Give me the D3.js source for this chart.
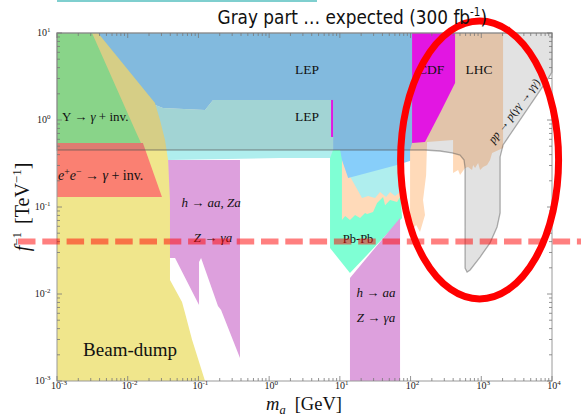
<!DOCTYPE html>
<html><head><meta charset="utf-8">
<script src="https://cdn.jsdelivr.net/npm/d3@7"></script>
<style>
html,body{margin:0;padding:0;background:#fff;}
svg{display:block;}
</style></head><body>
<svg id="chart" width="581" height="418"></svg>
<script>
// Axes: ALP mass m_a [GeV] and coupling f^-1 [TeV^-1]
const massDecades = [1e-3, 1e-2, 1e-1, 1e0, 1e1, 1e2, 1e3, 1e4];
const couplingDecades = [1e-3, 1e-2, 1e-1, 1e0, 1e1];

// Excluded regions, each point is [m_a (GeV), f^-1 (TeV^-1)]
const beamDump = [[0.001,10],[0.0038,10],[0.0243,1.57],[0.0286,1.0],[0.0337,0.589],[0.0372,0.347],[0.0396,0.12],[0.0396,0.0145],[0.0586,0.0081],[0.0645,0.0061],[0.0811,0.003],[0.124,0.001],[0.001,0.001]];
const upsilonDecay = [[0.001,10],[0.00313,10],[0.0127,0.767],[0.0154,0.544],[0.001,0.544]];
const monoPhoton = [[0.001,0.544],[0.0164,0.544],[0.0305,0.13],[0.001,0.13]];
const lepTriPhoton = [[0.0029,10],[108,10],[108,0.347],[64.4,0.304],[13.1,0.215],[10.7,0.347],[10.1,0.452],[8.02,0.452],[8.02,1.7],[0.161,1.7],[0.124,1.3],[0.0315,1.37],[0.0207,1.57]];
const lepDiPhoton = [[0.001,1.57],[0.0207,1.57],[0.0315,1.37],[0.124,1.3],[0.161,1.7],[8.02,1.7],[8.02,0.452],[7.26,0.366],[1.43,0.366],[0.0372,0.347],[0.001,0.347]];
const lepDiPhotonLow = [[12.6,0.26],[71,0.347],[71,0.149],[60.4,0.134],[51.3,0.149],[45,0.13],[37,0.149],[31.5,0.127],[25.1,0.134],[20.6,0.127]];
const leadLead = [[7.26,0.452],[11.9,0.452],[11.9,0.137],[71,0.165],[75.8,0.0748],[13.9,0.0174],[7.26,0.0338]];
const lhcLowMass = [[10.7,0.347],[71,0.347],[71,0.13],[64.4,0.114],[51.3,0.12],[43.6,0.105],[40.8,0.13],[33.6,0.111],[29.5,0.0877],[24.3,0.0832],[22.7,0.0853],[19.3,0.0748],[16.4,0.0809],[13.9,0.071],[11.9,0.0788],[10.7,0.071]];
const exoticHZ = [[0.0372,0.347],[0.387,0.347],[0.387,0.00184],[0.209,0.00655],[0.189,0.00728],[0.109,0.0259],[0.102,0.0233],[0.102,0.00748],[0.0467,0.0259],[0.0372,0.0259]];
const exoticHZHigh = [[13.9,0.001],[71,0.001],[71,0.0748],[13.9,0.0153]];
const cdfSliver = [[7.51,1.7],[8.02,1.7],[8.02,0.638],[7.51,0.638]];
const lhcPhotons = [[105,10],[2032,10],[2032,0.477],[1422,0.418],[1330,0.347],[1208,0.304],[1060,0.288],[962,0.266],[902,0.321],[817,0.281],[766,0.304],[741,0.266],[650,0.288],[590,0.281],[501,0.233],[470,0.266],[399,0.246],[399,0.589],[171,0.559],[166,0.233],[150,0.12],[160,0.0809],[136,0.0516],[120,0.0621],[98.4,0.0516],[98.4,0.452],[105,0.544]];
const cdfPhotons = [[105,10],[426,10],[426,2.66],[261,1.2],[160,0.559],[105,0.544]];
// projected reach, 300 fb^-1
const expectedReach = [[0.001,10],[1e4,10],[1e4,3.56],[8530,2.88],[2032,0.516],[1845,0.376],[1845,0.0853],[1671,0.0589],[1330,0.0386],[962,0.0266],[695,0.0189],[630,0.0179],[590,0.0199],[590,0.281],[571,0.347],[501,0.396],[386,0.418],[261,0.44],[160,0.452],[0.001,0.452]];

const referenceCoupling = 0.04;
const highlightCenter = [946, 0.347];

const svg = d3.select("#chart");
const x = d3.scaleLog().domain([1e-3, 1e4]).range([57, 552]);
const y = d3.scaleLog().domain([1e-3, 1e1]).range([381, 33]);

// top accent strip
svg.append("rect").attr("x", 57).attr("y", 0).attr("width", 260).attr("height", 2).attr("fill", "#7fcfcf");

const area = d3.line().x(d => x(d[0])).y(d => y(d[1]));
const layers = [
  [leadLead, "#7fffd4"],
  [lhcLowMass, "#ffdab9"],
  [lepDiPhotonLow, "#afeeee"],
  [lepTriPhoton, "#87cefa"],
  [lepDiPhoton, "#afeeee"],
  [exoticHZ, "#dda0dd"],
  [exoticHZHigh, "#dda0dd"],
  [beamDump, "#f0e68c"],
  [upsilonDecay, "#90ee90"],
  [monoPhoton, "#fa8072"],
  [cdfSliver, "#ff00ff"],
  [lhcPhotons, "#ffdab9"],
  [cdfPhotons, "#ff00ff"]
];
const plot = svg.append("g");
plot.selectAll("path.region").data(layers).join("path")
  .attr("class", "region")
  .attr("d", d => area(d[0]) + "Z")
  .attr("fill", d => d[1]);

plot.append("path")
  .attr("d", area(expectedReach) + "Z")
  .attr("fill", "rgba(111,111,111,0.2)")
  .attr("stroke", "rgba(80,80,80,0.45)")
  .attr("stroke-width", 1.3);

// frame and ticks on all four sides
svg.append("rect").attr("x", 57).attr("y", 33).attr("width", 495).attr("height", 348)
  .attr("fill", "none").attr("stroke", "#9a9a9a").attr("stroke-width", 1);
const tickG = svg.append("g").attr("stroke", "#777").attr("stroke-width", 0.8);
const xTicks = [], yTicks = [];
massDecades.forEach(d => { for (let k = 1; k <= 9; k++) if (k * d <= 1e4 + 1e-9) xTicks.push([k * d, k === 1]); });
couplingDecades.forEach(d => { for (let k = 1; k <= 9; k++) if (k * d <= 10 + 1e-9) yTicks.push([k * d, k === 1]); });
xTicks.forEach(([v, major]) => {
  const L = major ? 5 : 3;
  tickG.append("line").attr("x1", x(v)).attr("x2", x(v)).attr("y1", 381).attr("y2", 381 - L);
  tickG.append("line").attr("x1", x(v)).attr("x2", x(v)).attr("y1", 33).attr("y2", 33 + L);
});
yTicks.forEach(([v, major]) => {
  const L = major ? 5 : 3;
  tickG.append("line").attr("y1", y(v)).attr("y2", y(v)).attr("x1", 57).attr("x2", 57 + L);
  tickG.append("line").attr("y1", y(v)).attr("y2", y(v)).attr("x1", 552).attr("x2", 552 - L);
});

const serif = "'Liberation Serif', 'Times New Roman', serif";
function powerLabel(g, v, px, py, anchor) {
  const t = g.append("text").attr("x", px).attr("y", py).attr("text-anchor", anchor)
    .attr("font-family", serif).attr("font-size", 10).attr("fill", "#222");
  t.append("tspan").text("10");
  t.append("tspan").attr("dy", -4).attr("font-size", 7).text(String(Math.round(Math.log10(v))));
}
const labG = svg.append("g");
massDecades.forEach(v => powerLabel(labG, v, x(v) + 2, 389, "middle"));
couplingDecades.forEach(v => powerLabel(labG, v, 50.5, y(v) + 3, "end"));

// axis titles
const yt = svg.append("text").attr("transform", "translate(29,207) rotate(-90)")
  .attr("text-anchor", "middle").attr("font-family", serif).attr("font-size", 20).attr("fill", "#111");
yt.append("tspan").attr("font-style", "italic").text("f");
yt.append("tspan").attr("dy", -8).attr("font-size", 13).text("−1");
yt.append("tspan").attr("dy", 8).attr("dx", 8).text("[TeV");
yt.append("tspan").attr("dy", -8).attr("font-size", 13).text("−1");
yt.append("tspan").attr("dy", 8).text("]");

const xt = svg.append("text").attr("x", 304).attr("y", 410)
  .attr("text-anchor", "middle").attr("font-family", serif).attr("font-size", 18.5).attr("fill", "#111");
xt.append("tspan").attr("font-style", "italic").text("m");
xt.append("tspan").attr("dy", 4).attr("font-size", 12.5).attr("font-style", "italic").text("a");
xt.append("tspan").attr("dy", -4).attr("dx", 9).text("[GeV]");

// region labels
function label(m, f, parts, size, anchor) {
  const t = svg.append("text").attr("x", x(m)).attr("y", y(f)).attr("text-anchor", anchor || "middle")
    .attr("font-family", serif).attr("font-size", size).attr("fill", "#111");
  parts.forEach(p => {
    const s = t.append("tspan").text(p.t);
    if (p.i) s.attr("font-style", "italic");
    if (p.sup) s.attr("dy", -5).attr("font-size", size * 0.7);
    if (p.down) s.attr("dy", 5);
  });
  return t;
}
label(3.44, 3.38, [{t: "LEP"}], 13.5);
label(3.44, 0.975, [{t: "LEP"}], 13.5);
label(195, 3.38, [{t: "CDF"}], 13.5);
label(931, 3.38, [{t: "LHC"}], 13.5);
label(0.00118, 0.975, [{t: "Υ → "}, {t: "γ", i: 1}, {t: " + inv."}], 13, "start");
label(0.00103, 0.204, [{t: "e", i: 1}, {t: "+", sup: 1}, {t: "e", i: 1, down: 1}, {t: "−", sup: 1}, {t: " → ", down: 1}, {t: "γ", i: 1}, {t: " + inv."}], 14, "start");
label(0.151, 0.1, [{t: "h", i: 1}, {t: " → "}, {t: "aa", i: 1}, {t: ", "}, {t: "Za", i: 1}], 13);
label(0.161, 0.0396, [{t: "Z", i: 1}, {t: " → "}, {t: "γa", i: 1}], 13);
label(18.1, 0.0386, [{t: "Pb-Pb"}], 12.5);
label(32.5, 0.00925, [{t: "h", i: 1}, {t: " → "}, {t: "aa", i: 1}], 13);
label(32.5, 0.00476, [{t: "Z", i: 1}, {t: " → "}, {t: "γa", i: 1}], 13);
label(0.0108, 0.00194, [{t: "Beam-dump"}], 19);
label(3200, 1.2, [{t: "pp", i: 1}, {t: " → "}, {t: "p", i: 1}, {t: "("}, {t: "γγ", i: 1}, {t: " → "}, {t: "γγ", i: 1}, {t: ")"}], 11.5)
  .attr("transform", `rotate(-53,${x(3200)},${y(1.2)})`);

// reference coupling
svg.append("line").attr("x1", 18).attr("x2", 581).attr("y1", y(referenceCoupling)).attr("y2", y(referenceCoupling))
  .attr("stroke", "rgba(255,0,0,0.5)").attr("stroke-width", 6).attr("stroke-dasharray", "17.5,6.8");

// highlighted high-mass area
svg.append("ellipse").attr("cx", x(highlightCenter[0])).attr("cy", y(highlightCenter[1]))
  .attr("rx", 79).attr("ry", 139).attr("fill", "none").attr("stroke", "#ff0000").attr("stroke-width", 7);

// title
const tt = svg.append("text").attr("x", 487).attr("y", 24).attr("text-anchor", "end")
  .attr("font-family", "'DejaVu Sans Condensed', 'DejaVu Sans', sans-serif").attr("font-size", 18.8).attr("fill", "#111");
tt.append("tspan").text("Gray part … expected (300 fb");
tt.append("tspan").attr("dy", -8).attr("font-size", 11.5).text("-1");
tt.append("tspan").attr("dy", 8).text(")");
</script>
</body></html>
